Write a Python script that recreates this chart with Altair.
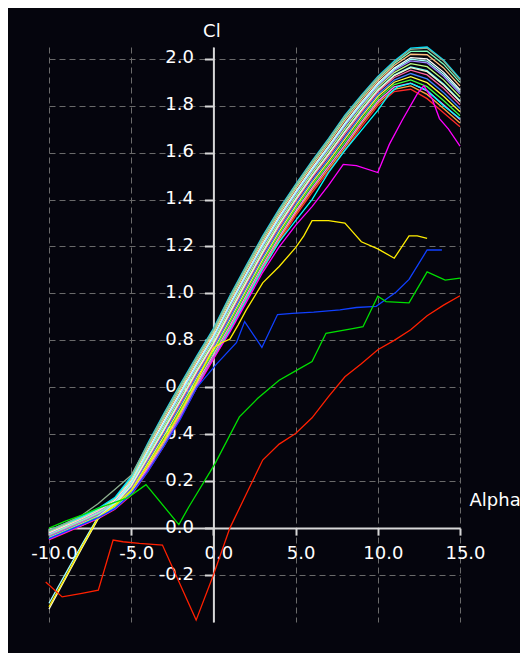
import altair as alt
import pandas as pd

# angle of attack grid for the bundle of polars
ALPHA = [-10, -9, -8, -7, -6, -5, -4, -3, -2, -1, 0, 1, 2, 3, 4, 5, 6, 7, 8, 9, 10, 11, 12, 13, 14, 15]

BUNDLE = {
    "b00": [-0.05, -0.02, 0.01, 0.04, 0.08, 0.14, 0.24, 0.35, 0.47, 0.60, 0.72, 0.84, 0.97, 1.10, 1.22, 1.33, 1.43, 1.52, 1.61, 1.71, 1.80, 1.86, 1.87, 1.83, 1.77, 1.71],
    "b01": [-0.047, -0.017, 0.013, 0.044, 0.084, 0.146, 0.25, 0.361, 0.482, 0.611, 0.73, 0.852, 0.982, 1.112, 1.231, 1.341, 1.441, 1.531, 1.622, 1.721, 1.81, 1.87, 1.884, 1.848, 1.788, 1.726],
    "b02": [-0.044, -0.014, 0.016, 0.047, 0.088, 0.152, 0.258, 0.371, 0.492, 0.62, 0.74, 0.863, 0.993, 1.122, 1.241, 1.35, 1.45, 1.541, 1.633, 1.73, 1.819, 1.88, 1.896, 1.863, 1.804, 1.741],
    "b03": [-0.041, -0.011, 0.019, 0.05, 0.092, 0.158, 0.268, 0.382, 0.503, 0.631, 0.75, 0.875, 1.005, 1.133, 1.252, 1.361, 1.461, 1.552, 1.645, 1.741, 1.829, 1.89, 1.91, 1.881, 1.822, 1.757],
    "b04": [-0.038, -0.008, 0.022, 0.054, 0.096, 0.165, 0.277, 0.393, 0.515, 0.642, 0.76, 0.887, 1.017, 1.145, 1.263, 1.372, 1.472, 1.563, 1.657, 1.752, 1.839, 1.90, 1.924, 1.898, 1.84, 1.774],
    "b05": [-0.035, -0.005, 0.025, 0.057, 0.099, 0.17, 0.286, 0.403, 0.525, 0.651, 0.769, 0.897, 1.027, 1.155, 1.273, 1.381, 1.481, 1.573, 1.667, 1.761, 1.848, 1.909, 1.937, 1.914, 1.856, 1.788],
    "b06": [-0.032, -0.002, 0.028, 0.061, 0.103, 0.177, 0.295, 0.414, 0.537, 0.662, 0.78, 0.909, 1.039, 1.167, 1.284, 1.392, 1.492, 1.584, 1.679, 1.772, 1.858, 1.92, 1.951, 1.931, 1.874, 1.804],
    "b07": [-0.028, 0.002, 0.032, 0.064, 0.107, 0.183, 0.305, 0.426, 0.548, 0.673, 0.79, 0.921, 1.051, 1.178, 1.296, 1.403, 1.503, 1.596, 1.691, 1.783, 1.868, 1.93, 1.965, 1.949, 1.892, 1.821],
    "b08": [-0.025, 0.005, 0.035, 0.068, 0.111, 0.19, 0.314, 0.437, 0.56, 0.684, 0.801, 0.933, 1.063, 1.19, 1.307, 1.414, 1.514, 1.607, 1.703, 1.794, 1.878, 1.941, 1.979, 1.966, 1.91, 1.837],
    "b09": [-0.022, 0.008, 0.038, 0.071, 0.115, 0.195, 0.323, 0.447, 0.57, 0.693, 0.81, 0.944, 1.074, 1.2, 1.317, 1.423, 1.523, 1.617, 1.714, 1.803, 1.886, 1.95, 1.991, 1.982, 1.925, 1.851],
    "b10": [-0.019, 0.011, 0.041, 0.075, 0.119, 0.202, 0.332, 0.458, 0.582, 0.704, 0.82, 0.956, 1.086, 1.212, 1.328, 1.434, 1.534, 1.628, 1.726, 1.814, 1.896, 1.96, 2.005, 1.999, 1.943, 1.868],
    "b11": [-0.016, 0.014, 0.044, 0.078, 0.123, 0.208, 0.342, 0.469, 0.593, 0.715, 0.831, 0.968, 1.098, 1.223, 1.339, 1.445, 1.545, 1.639, 1.738, 1.825, 1.906, 1.971, 2.019, 2.017, 1.961, 1.884],
    "b12": [-0.013, 0.017, 0.047, 0.081, 0.126, 0.214, 0.35, 0.479, 0.603, 0.724, 0.84, 0.978, 1.108, 1.233, 1.349, 1.454, 1.554, 1.649, 1.748, 1.834, 1.915, 1.98, 2.031, 2.032, 1.977, 1.899],
    "b13": [-0.01, 0.02, 0.05, 0.085, 0.13, 0.22, 0.36, 0.49, 0.615, 0.735, 0.85, 0.99, 1.12, 1.245, 1.36, 1.465, 1.565, 1.66, 1.76, 1.845, 1.925, 1.99, 2.045, 2.05, 1.995, 1.915],
    "s01": [-0.345, -0.215, -0.085, 0.04, 0.10, 0.18, 0.30, 0.42, 0.545, 0.67, 0.786, 0.918, 1.048, 1.175, 1.293, 1.40, 1.50, 1.593, 1.688, 1.78, 1.865, 1.928, 1.962, 1.945, 1.888, 1.818],
    "s02": [-0.32, -0.195, -0.07, 0.05, 0.105, 0.195, 0.325, 0.45, 0.575, 0.698, 0.815, 0.95, 1.08, 1.206, 1.322, 1.428, 1.528, 1.622, 1.72, 1.808, 1.89, 1.955, 1.998, 1.99, 1.934, 1.86],
    "g01": [-0.01, 0.02, 0.055, 0.105, 0.165, 0.225, 0.355, 0.485, 0.61, 0.73, 0.845, 0.985, 1.115, 1.24, 1.355, 1.46, 1.56, 1.655, 1.755, 1.84, 1.92, 1.985, 2.04, 2.045, 1.99, 1.91],
}
BUNDLE_COLORS = ["#ff2a2a", "#ffa040", "#ff80ff", "#40ff40", "#ffff40", "#4080ff", "#ff60a0",
                 "#60ffff", "#c0ff80", "#a080ff", "#ffffff", "#ffc080", "#80ffc0", "#00e0ff",
                 "#f4f4d0", "#a0ffff", "#8fb08f"]

GREEN_A = [-10, -9, -8, -7, -6, -5.2, -4.1, -2.1, -1.5, 0.1, 1.58, 2.7, 4.0, 5.0, 6.0, 6.85, 8.47, 9.1, 10.0, 10.5, 11.9, 13.0, 14.1, 15.0]
GREEN_CL = [0.0, 0.03, 0.055, 0.085, 0.11, 0.13, 0.185, 0.015, 0.09, 0.275, 0.474, 0.553, 0.63, 0.67, 0.71, 0.83, 0.85, 0.858, 0.988, 0.965, 0.96, 1.092, 1.057, 1.065]

RED_A = [-10.2, -9.2, -8.0, -7.0, -6.1, -5.5, -4.5, -3.1, -1.05, 0.0, 1.0, 2.0, 3.0, 4.0, 5.0, 6.0, 7.0, 8.0, 9.0, 10.0, 11.0, 12.0, 13.0, 14.0, 15.0]
RED_CL = [-0.23, -0.293, -0.278, -0.264, -0.051, -0.058, -0.065, -0.072, -0.392, -0.2, 0.0, 0.145, 0.29, 0.358, 0.403, 0.47, 0.56, 0.645, 0.70, 0.76, 0.80, 0.845, 0.905, 0.95, 0.99]

YELLOW_A = [-10, -9, -8, -7, -6, -5, -4, -3, -2, -1, -0.5, 0.0, 0.5, 1.0, 1.5, 2.0, 3.0, 4.0, 5.0, 5.5, 6.0, 7.0, 8.0, 8.5, 9.0, 10.0, 11.0, 11.9, 12.4, 13.0]
YELLOW_CL = [-0.335, -0.21, -0.08, 0.045, 0.098, 0.16, 0.265, 0.375, 0.495, 0.625, 0.70, 0.768, 0.79, 0.805, 0.865, 0.93, 1.045, 1.115, 1.195, 1.245, 1.31, 1.31, 1.30, 1.26, 1.22, 1.19, 1.15, 1.245, 1.245, 1.235]

BLUE_A = [-10, -9, -8, -7, -6, -5, -4, -3, -2, -1, 0.2, 1.4, 1.9, 2.95, 3.9, 4.8, 6.1, 7.7, 8.7, 9.9, 11.1, 11.9, 13.0, 13.9]
BLUE_CL = [-0.045, -0.015, 0.015, 0.045, 0.083, 0.145, 0.24, 0.35, 0.465, 0.60, 0.70, 0.79, 0.88, 0.77, 0.91, 0.915, 0.92, 0.93, 0.94, 0.945, 1.005, 1.06, 1.185, 1.185]

MAGENTA_A = [-10, -9, -8, -7, -6, -5, -4, -3, -2, -1, 0, 1, 2, 3, 4, 5, 6, 7, 7.9, 8.7, 10.0, 10.7, 11.5, 12.4, 12.8, 13.3, 13.75, 14.3, 15.0]
MAGENTA_CL = [-0.048, -0.018, 0.012, 0.042, 0.082, 0.143, 0.245, 0.352, 0.472, 0.602, 0.722, 0.835, 0.962, 1.09, 1.198, 1.29, 1.37, 1.46, 1.55, 1.545, 1.515, 1.635, 1.74, 1.85, 1.885, 1.83, 1.745, 1.70, 1.628]

CYAN_A = [-10, -9, -8, -7, -6, -5, -4, -3, -2, -1, 0, 1, 2, 3, 4, 5, 6, 7, 8, 9, 10, 10.7, 11.2, 12, 13, 14, 15]
CYAN_CL = [-0.045, -0.015, 0.015, 0.045, 0.085, 0.145, 0.245, 0.355, 0.475, 0.605, 0.725, 0.845, 0.975, 1.105, 1.22, 1.31, 1.40, 1.515, 1.61, 1.695, 1.78, 1.85, 1.88, 1.895, 1.865, 1.80, 1.745]

OUTLIERS = {
    "cyan": (CYAN_A, CYAN_CL, "#00ffff"),
    "magenta": (MAGENTA_A, MAGENTA_CL, "#ff00ff"),
    "yellow": (YELLOW_A, YELLOW_CL, "#ffee00"),
    "blue": (BLUE_A, BLUE_CL, "#1040ff"),
    "green": (GREEN_A, GREEN_CL, "#00e000"),
    "red": (RED_A, RED_CL, "#ff2000"),
}

X_TICKS = [-10, -5, 0, 5, 10, 15]
Y_TICKS = [-0.2, 0.0, 0.2, 0.4, 0.6, 0.8, 1.0, 1.2, 1.4, 1.6, 1.8, 2.0]

rows_b = []
for name, vals in BUNDLE.items():
    for a, c in zip(ALPHA, vals):
        rows_b.append({"curve": name, "alpha": a, "cl": c})
df_b = pd.DataFrame(rows_b)

rows_o = []
for name, (al, cl, _) in OUTLIERS.items():
    for a, c in zip(al, cl):
        rows_o.append({"curve": name, "alpha": a, "cl": c})
df_o = pd.DataFrame(rows_o)

color_domain = list(BUNDLE.keys()) + list(OUTLIERS.keys())
color_range = BUNDLE_COLORS + [v[2] for v in OUTLIERS.values()]

W, H = 411, 575
YMIN, YMAX = -0.4, 2.05
XMIN, XMAX = -10, 15
x_off = -H * (0 - YMIN) / (YMAX - YMIN)
y_off = -W * (0 - XMIN) / (XMAX - XMIN)

LBL = "#ffffff"
FONT = "DejaVu Sans"
fix_minus = "replace(datum.label, '\u2212', '-')"

x_enc = alt.X(
    "alpha:Q",
    scale=alt.Scale(domain=[XMIN, XMAX], nice=False, zero=False),
    axis=alt.Axis(
        values=X_TICKS, format=".1f", labelExpr=fix_minus, offset=x_off,
        grid=True, gridColor="#6a6a6a", gridDash=[6, 4], gridWidth=1,
        domainColor="#d8d8d8", domainWidth=2, tickColor="#d8d8d8", tickWidth=2, tickSize=7,
        labelColor=LBL, labelFont=FONT, labelFontSize=18, labelPadding=9, labelOffset=5,
        labelFlush=False, labelOverlap=False,
        title="Alpha", titleX=W + 9, titleY=-28, titleAlign="left", titleBaseline="middle",
        titleAngle=0, titleColor=LBL, titleFont=FONT, titleFontSize=18, titleFontWeight="normal",
    ),
)
y_enc = alt.Y(
    "cl:Q",
    scale=alt.Scale(domain=[YMIN, YMAX], nice=False, zero=False),
    axis=alt.Axis(
        values=Y_TICKS, format=".1f", labelExpr=fix_minus, offset=y_off,
        grid=True, gridColor="#6a6a6a", gridDash=[6, 4], gridWidth=1,
        domainColor="#d8d8d8", domainWidth=2, tickColor="#d8d8d8", tickWidth=2, tickSize=9,
        labelColor=LBL, labelFont=FONT, labelFontSize=18, labelPadding=11, labelOffset=-1,
        labelFlush=False, labelOverlap=False,
        title="Cl", titleX=-2, titleY=-16, titleAlign="center", titleBaseline="middle",
        titleAngle=0, titleColor=LBL, titleFont=FONT, titleFontSize=18, titleFontWeight="normal",
    ),
)
cscale = alt.Scale(domain=color_domain, range=color_range)

bundle = alt.Chart(df_b).mark_line(strokeWidth=1.3).encode(
    x=x_enc, y=y_enc, color=alt.Color("curve:N", scale=cscale, legend=None)
)
outl = alt.Chart(df_o).mark_line(strokeWidth=1.3).encode(
    x=x_enc, y=y_enc, color=alt.Color("curve:N", scale=cscale, legend=None)
)

chart = alt.layer(bundle, outl).properties(
    width=W, height=H,
    autosize=alt.AutoSizeParams(type="none"),
    padding={"left": 41, "top": 39, "right": 60, "bottom": 31},
    background="#05050d",
).configure_view(strokeWidth=0)

chart.save("out.html", embed_options={"renderer": "svg", "actions": False})
